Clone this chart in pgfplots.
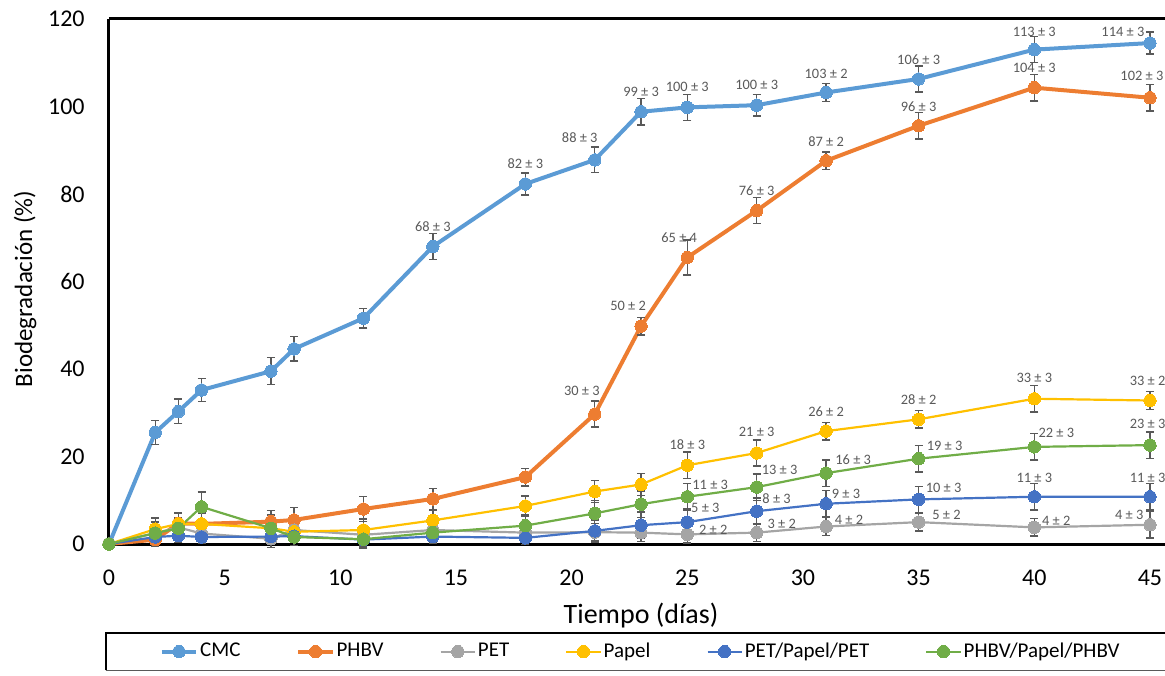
\documentclass[border=0pt]{standalone}
\usepackage{fontspec}
\setmainfont{Carlito}
\usepackage{pgfplots}
\pgfplotsset{compat=1.18}
\usepackage{pgfplotstable}
\definecolor{cCMC}{HTML}{5B9BD5}
\definecolor{cPHBV}{HTML}{ED7D31}
\definecolor{cPET}{HTML}{A5A5A5}
\definecolor{cPap}{HTML}{FFC000}
\definecolor{cPPP}{HTML}{4472C4}
\definecolor{cHPH}{HTML}{70AD47}
\definecolor{cErr}{HTML}{595959}

\pgfplotstableread{
x y e
0 0 0
2 25.5 2.7
3 30.3 2.8
4 35.2 2.6
7 39.5 3.1
8 44.6 2.8
11 51.6 2.2
14 68.0 3
18 82.3 2.5
21 87.8 2.9
23 98.8 3
25 99.8 3
28 100.3 2.5
31 103.2 2
35 106.3 3
40 113.0 3
45 114.5 2.5
}\cmc
\pgfplotstableread{
x y e
0 0 0
2 1.0 1.5
3 4.7 2.5
4 4.6 2.5
7 5.1 2.5
8 5.5 2.8
11 8.0 2.8
14 10.3 2.4
18 15.3 2
21 29.7 3
23 49.8 2
25 65.5 4
28 76.2 3
31 87.6 2
35 95.6 3
40 104.3 3
45 102.0 3
}\phbv
\pgfplotstableread{
x y e
0 0 0
2 2.5 2
3 3.8 2
4 2.4 2
7 1.2 2
8 3.2 2
11 2.1 2
14 3.2 2
18 2.6 2
21 2.7 2
23 2.6 2
25 2.2 2
28 2.6 2
31 4.0 2
35 5.0 2
40 3.8 2
45 4.4 3
}\pet
\pgfplotstableread{
x y e
0 0 0
2 3.4 2.5
3 4.6 2.5
4 4.6 2.5
7 3.6 2.5
8 2.8 2.5
11 3.2 2.5
14 5.4 2.3
18 8.7 2.3
21 12.0 2.5
23 13.6 2.5
25 18.0 3
28 20.8 3
31 25.8 2
35 28.5 2
40 33.2 3
45 32.8 2
}\papel
\pgfplotstableread{
x y e
0 0 0
2 1.6 1.5
3 1.9 1.5
4 1.6 1.5
7 1.7 1.5
8 1.8 1.5
11 1.0 1.5
14 1.7 1.5
18 1.4 1.5
21 3.0 2.5
23 4.3 3
25 5.0 3
28 7.5 3
31 9.2 3
35 10.2 3
40 10.8 3
45 10.8 3
}\ppp
\pgfplotstableread{
x y e
0 0 0
2 2.5 2.5
3 3.6 2.5
4 8.5 3.4
7 3.6 3
8 1.6 2
11 1.1 2
14 2.6 2
18 4.2 2.5
21 7.0 3
23 9.1 3
25 10.8 3
28 13.0 3
31 16.2 3
35 19.5 3
40 22.2 3
45 22.6 3
}\hph

\pgfplotsset{
  ser/.style={color=#1, line width=1.1pt, mark=*, mark size=3.1pt,
    mark options={solid, fill=#1, draw=#1, line width=0pt}},
  errs/.style={error bars/.cd, y dir=both, y explicit,
    error bar style={cErr, line width=0.7pt},
    error mark options={rotate=90, cErr, mark size=2pt, line width=0.7pt}},
}
\tikzset{lab/.style={font=\fontsize{7.2}{8}\selectfont, text=cErr, inner sep=0pt, anchor=center}}

\begin{document}
\begin{tikzpicture}
\useasboundingbox (-54.5pt,-65.5pt) rectangle (528pt,272pt);
\begin{axis}[
  at={(0pt,0pt)}, anchor=south west,
  scale only axis, width=528pt, height=262.5pt,
  xmin=0, xmax=45.65, ymin=0, ymax=120,
  xtick={0,5,...,45}, ytick={0,20,...,120},
  major tick length=0pt,
  axis x line=box, axis y line=left,
  axis line style={-, line width=1.5pt, black},
  clip=false,
  tick label style={font=\fontsize{12}{14}\selectfont, /pgf/number format/assume math mode=true},
  xticklabel style={anchor=base, inner sep=0pt, yshift=-20.5pt},
  yticklabel style={anchor=east, inner sep=0pt, xshift=-12pt},
  xlabel={Tiempo (días)}, ylabel={Biodegradación (\%)},
  every axis x label/.style={at={(axis cs:23.0,-18.1)}, anchor=base, font=\fontsize{14}{16}\selectfont},
  every axis y label/.style={at={(axis cs:-3.63,58.3)}, anchor=center, rotate=90, font=\fontsize{12.5}{15}\selectfont},
  legend style={name=leg, at={(axis cs:-0.13,-20.3)}, anchor=north west, legend columns=6,
    draw=none, inner xsep=27pt, inner ysep=4pt, outer sep=0pt,
    font=\fontsize{10.5}{12}\selectfont, nodes={inner sep=1pt},
    /tikz/every even column/.append style={column sep=27pt}},
  legend cell align=left,
]
\addplot[ser=cCMC, line width=2pt, errs] table[x=x, y=y, y error=e] {\cmc};
\addlegendentry{CMC}
\addplot[ser=cPHBV, line width=2pt, errs] table[x=x, y=y, y error=e] {\phbv};
\addlegendentry{PHBV}
\addplot[ser=cPET, errs] table[x=x, y=y, y error=e] {\pet};
\addlegendentry{PET}
\addplot[ser=cPap, errs] table[x=x, y=y, y error=e] {\papel};
\addlegendentry{Papel}
\addplot[ser=cPPP, errs] table[x=x, y=y, y error=e] {\ppp};
\addlegendentry{PET/Papel/PET}
\addplot[ser=cHPH, errs] table[x=x, y=y, y error=e] {\hph};
\addlegendentry{PHBV/Papel/PHBV}

\node[lab] at (axis cs:14,72.6) {68 ± 3};
\node[lab] at (axis cs:18,86.9) {82 ± 3};
\node[lab] at (axis cs:20.35,92.8) {88 ± 3};
\node[lab] at (axis cs:23,103.4) {99 ± 3};
\node[lab] at (axis cs:25,104.4) {100 ± 3};
\node[lab] at (axis cs:28,104.9) {100 ± 3};
\node[lab] at (axis cs:31,107.4) {103 ± 2};
\node[lab] at (axis cs:35,110.65) {106 ± 3};
\node[lab] at (axis cs:40,117.0) {113 ± 3};
\node[lab] at (axis cs:43.83,117.0) {114 ± 3};
\node[lab] at (axis cs:20.44,35.0) {30 ± 3};
\node[lab] at (axis cs:22.44,54.4) {50 ± 2};
\node[lab] at (axis cs:24.65,70.1) {65 ± 4};
\node[lab] at (axis cs:28,80.8) {76 ± 3};
\node[lab] at (axis cs:31,91.95) {87 ± 2};
\node[lab] at (axis cs:35,99.95) {96 ± 3};
\node[lab] at (axis cs:40,108.8) {104 ± 3};
\node[lab] at (axis cs:44.65,107.0) {102 ± 3};
\node[lab] at (axis cs:25,22.6) {18 ± 3};
\node[lab] at (axis cs:28,25.6) {21 ± 3};
\node[lab] at (axis cs:31,30.15) {26 ± 2};
\node[lab] at (axis cs:35,33.1) {28 ± 2};
\node[lab] at (axis cs:40,38.0) {33 ± 3};
\node[lab] at (axis cs:44.9,37.4) {33 ± 2};
\node[lab] at (axis cs:25.99,13.55) {11 ± 3};
\node[lab] at (axis cs:28.99,16.9) {13 ± 3};
\node[lab] at (axis cs:32.17,19.2) {16 ± 3};
\node[lab] at (axis cs:36.12,22.5) {19 ± 3};
\node[lab] at (axis cs:40.95,25.3) {22 ± 3};
\node[lab] at (axis cs:44.9,27.4) {23 ± 3};
\node[lab] at (axis cs:25.78,8.2) {5 ± 3};
\node[lab] at (axis cs:28.86,10.35) {8 ± 3};
\node[lab] at (axis cs:31.86,11.5) {9 ± 3};
\node[lab] at (axis cs:36.08,12.9) {10 ± 3};
\node[lab] at (axis cs:40,15.15) {11 ± 3};
\node[lab] at (axis cs:44.9,15.15) {11 ± 3};
\node[lab] at (axis cs:26.12,3.35) {2 ± 2};
\node[lab] at (axis cs:29.08,4.6) {3 ± 2};
\node[lab] at (axis cs:31.99,5.5) {4 ± 2};
\node[lab] at (axis cs:36.2,6.6) {5 ± 2};
\node[lab] at (axis cs:40.95,5.4) {4 ± 2};
\node[lab] at (axis cs:44.1,6.7) {4 ± 3};
\end{axis}
\coordinate (R) at (528pt,0pt);
\draw[line width=0.9pt, black] (leg.south west) -- (leg.north west) -- (leg.north west -| R);
\draw[line width=0.9pt, black!65] (leg.south west) -- (leg.south west -| R);
\end{tikzpicture}
\end{document}
